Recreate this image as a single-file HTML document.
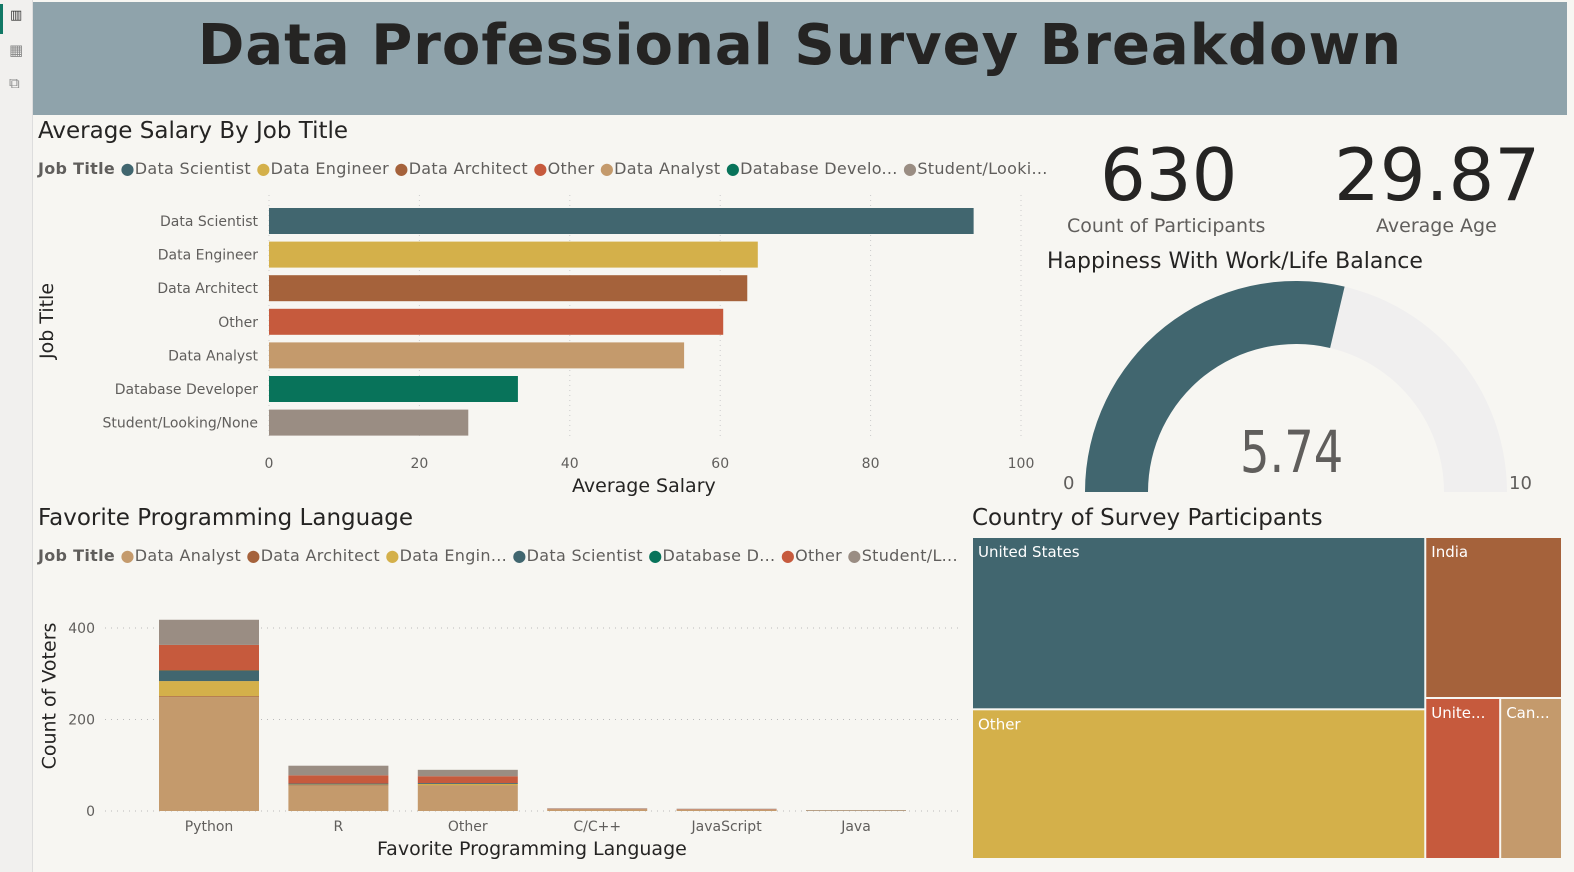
<!DOCTYPE html>
<html><head><meta charset="utf-8"><style>
body{margin:0;width:1574px;height:872px;background:#f7f6f2;font-family:"DejaVu Sans","Liberation Sans",sans-serif;overflow:hidden;position:relative}
.abs{position:absolute}
.t{position:absolute;white-space:nowrap}
</style></head><body>
<div class="abs" style="left:0;top:0;width:32px;height:872px;background:#f1f0ee;border-right:1px solid #ddd"></div>
<div class="abs" style="left:0;top:4px;width:3px;height:30px;background:#117865"></div>
<div class="t" style="left:10px;top:8px;font-size:13px;color:#333">▥</div>
<div class="t" style="left:9px;top:41px;font-size:15px;color:#888">▦</div>
<div class="t" style="left:9px;top:74px;font-size:15px;color:#888">⧉</div>
<div class="abs" style="left:33px;top:2px;width:1534px;height:113px;background:#8fa3ab"></div>
<div class="t" style="left:33px;width:1534px;text-align:center;top:13px;font-size:56px;font-weight:bold;color:#252423;letter-spacing:1px">Data Professional Survey Breakdown</div>

<svg class="abs" style="left:0;top:0" width="1574" height="872">
<g id="sal"></g>
<g id="lang"></g>
<g id="gauge"></g>
<g id="tree"></g>
</svg>

<div class="t" style="left:38px;top:118px;font-size:23px;color:#252423">Average Salary By Job Title</div>
<div class="t" style="left:38px;top:159px;font-size:16px;color:#605e5c;letter-spacing:0.3px"><b style="color:#605e5c">Job Title</b> <span style="color:#41666f">●</span>Data Scientist <span style="color:#d4b04a">●</span>Data Engineer <span style="color:#a5623b">●</span>Data Architect <span style="color:#c65a3d">●</span>Other <span style="color:#c49a6c">●</span>Data Analyst <span style="color:#08735a">●</span>Database Develo... <span style="color:#9a8d83">●</span>Student/Looki...</div>
<div class="t" style="left:9px;top:310px;font-size:19px;color:#252423;transform:rotate(-90deg);transform-origin:center">Job Title</div>
<div class="t" style="left:572px;top:475px;font-size:19px;color:#252423">Average Salary</div>

<div class="t" style="left:1100px;top:133px;font-size:72px;color:#252423">630</div>
<div class="t" style="left:1067px;top:215px;font-size:19px;color:#605e5c">Count of Participants</div>
<div class="t" style="left:1334px;top:133px;font-size:72px;color:#252423">29.87</div>
<div class="t" style="left:1376px;top:215px;font-size:19px;color:#605e5c">Average Age</div>
<div class="t" style="left:1047px;top:249px;font-size:22px;color:#252423">Happiness With Work/Life Balance</div>
<div class="t" style="left:1240px;top:418px;font-size:58px;color:#605e5c;transform:scaleX(0.8);transform-origin:left">5.74</div>
<div class="t" style="left:1063px;top:473px;font-size:18px;color:#605e5c">0</div>
<div class="t" style="left:1509px;top:473px;font-size:18px;color:#605e5c">10</div>

<div class="t" style="left:38px;top:505px;font-size:23px;color:#252423">Favorite Programming Language</div>
<div class="t" style="left:38px;top:546px;font-size:16px;color:#605e5c;letter-spacing:0.3px"><b>Job Title</b> <span style="color:#c49a6c">●</span>Data Analyst <span style="color:#a5623b">●</span>Data Architect <span style="color:#d4b04a">●</span>Data Engin... <span style="color:#41666f">●</span>Data Scientist <span style="color:#08735a">●</span>Database D... <span style="color:#c65a3d">●</span>Other <span style="color:#9a8d83">●</span>Student/L...</div>
<div class="t" style="left:-24px;top:685px;font-size:19px;color:#252423;transform:rotate(-90deg);transform-origin:center">Count of Voters</div>
<div class="t" style="left:377px;top:838px;font-size:19px;color:#252423">Favorite Programming Language</div>

<div class="t" style="left:972px;top:505px;font-size:23px;color:#252423">Country of Survey Participants</div>

<script>
const NS='http://www.w3.org/2000/svg';
function mk(p,tag,a,txt){const e=document.createElementNS(NS,tag);for(const k in a)e.setAttribute(k,a[k]);if(txt!=null)e.textContent=txt;p.appendChild(e);return e;}

// ---- salary chart data
const jobTitles=['Data Scientist','Data Engineer','Data Architect','Other','Data Analyst','Database Developer','Student/Looking/None'];
const salaryValues=[93.7,65.0,63.6,60.4,55.2,33.1,26.5];
const salaryTicks=[0,20,40,60,80,100];
const jobColors=['#41666f','#d4b04a','#a5623b','#c65a3d','#c49a6c','#08735a','#9a8d83'];
const sal=document.getElementById('sal');
const sx=v=>269+v*7.52;
salaryTicks.forEach(t=>{
  const l=mk(sal,'line',{x1:sx(t),x2:sx(t),y1:195,y2:440,stroke:'#ccc','stroke-dasharray':'1 4'});
  
  
  const tx=mk(sal,'text',{x:sx(t),y:468,'text-anchor':'middle','font-size':14,fill:'#605e5c','font-family':'DejaVu Sans'},t);
  
  
});
jobTitles.forEach((j,i)=>{
  const cy=221+i*33.6;
  const r=mk(sal,'rect',{x:sx(0),y:cy-13,width:sx(salaryValues[i])-sx(0),height:26,fill:jobColors[i]});
  
  
  const tx=mk(sal,'text',{x:258,y:cy+5,'text-anchor':'end','font-size':14,fill:'#605e5c','font-family':'DejaVu Sans'},j);
  
  
});

// ---- language chart data
const languages=['Python','R','Other','C/C++','JavaScript','Java'];
const stackOrder=['Data Analyst','Data Architect','Data Engineer','Data Scientist','Database Developer','Other','Student/Looking/None'];
const stackColors=['#c49a6c','#a5623b','#d4b04a','#41666f','#08735a','#c65a3d','#9a8d83'];
const analystVotes=[249,56,55,4,3,1];
const architectVotes=[2,1,1,0,0,0];
const engineerVotes=[33,1,3,0,0,0];
const scientistVotes=[22,2,2,0,0,0];
const dbDevVotes=[1,0,0,0,0,0];
const otherVotes=[56,18,15,1,1,0];
const studentVotes=[55,21,14,1,1,1];
const countTicks=[0,200,400];
const series=[analystVotes,architectVotes,engineerVotes,scientistVotes,dbDevVotes,otherVotes,studentVotes];
const lang=document.getElementById('lang');
const ly=v=>811-v*0.4575;
countTicks.forEach(t=>{
  const l=mk(lang,'line',{x1:105,x2:960,y1:ly(t),y2:ly(t),stroke:'#bbb','stroke-dasharray':'1 5'});
  
  
  const tx=mk(lang,'text',{x:95,y:ly(t)+5,'text-anchor':'end','font-size':14,fill:'#605e5c','font-family':'DejaVu Sans'},t);
  
  
});
languages.forEach((L,i)=>{
  const cx=209+i*129.4;
  let acc=0;
  series.forEach((s,k)=>{
    const v=s[i]; if(!v) return;
    const r=mk(lang,'rect',{x:cx-50,y:ly(acc+v),width:100,height:ly(acc)-ly(acc+v),fill:stackColors[k]});
    
    
    acc+=v;
  });
  const tx=mk(lang,'text',{x:cx,y:831,'text-anchor':'middle','font-size':14,fill:'#605e5c','font-family':'DejaVu Sans'},L);
  
  
});

// ---- gauge
const happinessValue=[5.74];
const gaugeRange=[0,10];
const g=document.getElementById('gauge');
const gcx=1296,gcy=492,Ro=211,Ri=148;
function arc(a0,a1){
  const p=(a,r)=>[gcx-r*Math.cos(a),gcy-r*Math.sin(a)];
  const [x0,y0]=p(a0,Ro),[x1,y1]=p(a1,Ro),[x2,y2]=p(a1,Ri),[x3,y3]=p(a0,Ri);
  return `M${x0},${y0} A${Ro},${Ro} 0 0 1 ${x1},${y1} L${x2},${y2} A${Ri},${Ri} 0 0 0 ${x3},${y3} Z`;
}
const frac=(happinessValue[0]-gaugeRange[0])/(gaugeRange[1]-gaugeRange[0]);
const gb=mk(g,'path',{d:arc(0,Math.PI),fill:'#f0efef'});


const gf=mk(g,'path',{d:arc(0,Math.PI*frac),fill:'#41666f'});



// ---- treemap
const countries=['United States','Other','India','United Kingdom','Canada'];
const countryCounts=[259,225,73,40,33];
const tree=document.getElementById('tree');
const tcol=['#41666f','#d4b04a','#a5623b','#c65a3d','#c49a6c'];
const tlabels=['United States','Other','India','Unite...','Can...'];
(function(){
  const X=972,Y=537,W=590,H=322,tot=countryCounts.reduce((a,b)=>a+b,0);
  const left=countryCounts[0]+countryCounts[1];
  const w1=W*left/tot;
  const h0=H*countryCounts[0]/left;
  const rest=tot-left;
  const hI=H*countryCounts[2]/rest;
  const w3=(W-w1)*countryCounts[3]/(countryCounts[3]+countryCounts[4]);
  const rects=[[X,Y,w1,h0],[X,Y+h0,w1,H-h0],[X+w1,Y,W-w1,hI],[X+w1,Y+hI,w3,H-hI],[X+w1+w3,Y+hI,W-w1-w3,H-hI]];
  rects.forEach((r,i)=>{
    const e=mk(tree,'rect',{x:r[0]+1,y:r[1]+1,width:r[2]-2,height:r[3]-2,fill:tcol[i]});
    
    
    const t=mk(tree,'text',{x:r[0]+6,y:r[1]+20,'font-size':15,fill:'#fff','font-family':'DejaVu Sans'},tlabels[i]);
    
    
  });
})();
</script>
</body></html>
